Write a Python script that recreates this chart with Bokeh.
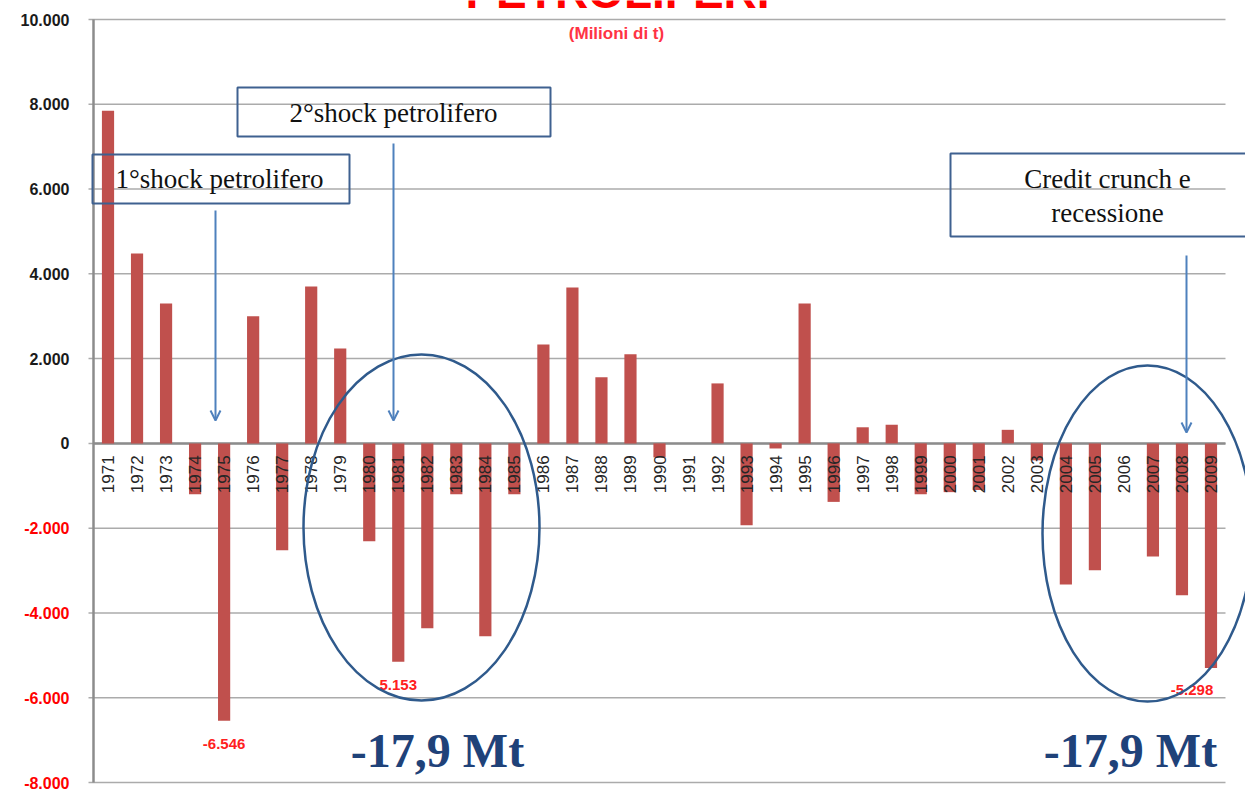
from bokeh.plotting import figure
from bokeh.models import Range1d, ColumnDataSource, LinearScale, Arrow, OpenHead
from bokeh.core.properties import value
from bokeh.embed import file_html
from bokeh.resources import INLINE
import math

# ---------------- data ----------------
years = [str(y) for y in range(1971, 2010)]
values = [7850, 4480, 3300, -1200, -6546, 3000, -2520, 3700, 2240, -2310,
          -5153, -4360, -1200, -4550, -1200, 2330, 3680, 1560, 2100, -330,
          0, 1415, -1930, -120, 3300, -1380, 380, 440, -1200, -1150,
          -1100, 320, -400, -3330, -2990, 0, -2670, -3580, -5298]
ytick_values = [-8000, -6000, -4000, -2000, 0, 2000, 4000, 6000, 8000, 10000]
ytick_labels = [f"{v:,}".replace(",", ".") for v in ytick_values]
label_years = ["1975", "1981"]
label_values = [-6546, -5153]
label_texts = ["-6.546", "5.153"]
last_year, last_value, last_text = "2009", -5298, "-5.298"

title_text = "PETROLIFERI"
subtitle_text = "(Milioni di t)"
box_texts = ["1°shock petrolifero", "2°shock petrolifero", "Credit crunch e", "recessione"]
total_text = "-17,9 Mt"

# ---------------- layout (page pixels) ----------------
W, H = 1245, 790
AX_L, AX_R = 93, 1225          # category area
Y_TOP, Y_BOT = 19, 782         # pixel rows of 10.000 and -8.000
N = len(years)
slot = {y: i + 0.5 for i, y in enumerate(years)}
k = (Y_BOT - Y_TOP) / (ytick_values[-1] - ytick_values[0])   # px per unit


def X(px):
    """page pixel column -> x data (category slots)"""
    return (px - AX_L) * N / (AX_R - AX_L)


def yval(py):
    return ytick_values[-1] - (py - Y_TOP) / k


p = figure(width=W, height=H, x_range=Range1d(X(0), X(W)),
           y_range=Range1d(yval(H), yval(0)),
           output_backend="svg", toolbar_location=None, title=None,
           min_border=0)
p.extra_y_ranges = {"py": Range1d(H, 0)}
p.extra_y_scales = {"py": LinearScale()}
p.axis.visible = False
p.grid.visible = False
p.outline_line_color = None
p.background_fill_color = "white"
p.border_fill_color = "white"

# gridlines (with small outer tick) and axes
p.segment(x0=X(AX_L - 5), x1=N, y0=ytick_values, y1=ytick_values,
          line_color="#ababab", line_width=1.5)
p.segment(x0=[0], x1=[0], y0=[ytick_values[0]], y1=[ytick_values[-1]],
          line_color="#8c8c8c", line_width=2.5)
p.segment(x0=[0], x1=[N], y0=[0], y1=[0], line_color="#8c8c8c", line_width=2.5)

src = ColumnDataSource(dict(x=[slot[y] for y in years], year=years, top=values))
p.vbar(x="x", top="top", bottom=0, width=0.42, source=src,
       fill_color="#c0504d", line_color=None)

# year labels on the zero line
p.text(x="x", y=0, text="year", source=src, angle=math.pi / 2, text_align="right",
       text_baseline="middle", y_offset=12, text_font=value("Liberation Sans"),
       text_font_size="17px", text_color="#262626")

# y tick labels (negatives in red)
p.text(x=[X(69)] * len(ytick_values), y=ytick_values, text=ytick_labels,
       text_color=["#ff0000" if v < 0 else "#1a1a1a" for v in ytick_values],
       text_align="right", text_baseline="middle", text_font=value("Liberation Sans"),
       text_font_style="bold", text_font_size="16px")

# data labels
p.text(x=[slot[y] for y in label_years], y=label_values, text=label_texts, text_align="center",
       text_baseline="middle", y_offset=23, text_font=value("Liberation Sans"),
       text_font_style="bold", text_font_size="15px", text_color="#ff2020")
p.text(x=[slot[last_year]], y=[last_value], text=[last_text], text_align="center",
       text_baseline="middle", y_offset=22, x_offset=-19, text_font=value("Liberation Sans"),
       text_font_style="bold", text_font_size="15px", text_color="#ff2020")

# title (cut off at the top like the reference) and subtitle
p.text(x=[X(617)], y=[17], y_range_name="py", text=[title_text],
       text_align="center", text_baseline="bottom", text_font=value("Liberation Sans"),
       text_font_style="bold", text_font_size="46px", text_color="#ff0000")
p.text(x=[X(616)], y=[33], y_range_name="py", text=[subtitle_text],
       text_align="center", text_baseline="middle", text_font=value("Liberation Sans"),
       text_font_style="bold", text_font_size="17px", text_color="#ff3344")

# annotation boxes
box_col = "#3f6190"
p.quad(left=[X(92), X(237), X(950)], right=[X(349), X(550), X(1252)],
       top=[154, 87, 153], bottom=[203, 136, 236],
       y_range_name="py", fill_alpha=0, line_color=box_col, line_width=2)
serif = value("Liberation Serif")
p.text(x=[X(115)], y=[178], text=[box_texts[0]], y_range_name="py",
       text_align="left", text_baseline="middle", text_font=serif,
       text_font_size="27px", text_color="#111111")
p.text(x=[X(393), X(1107), X(1107)], y=[112, 178, 212], text=box_texts[1:],
       y_range_name="py", text_align="center", text_baseline="middle", text_font=serif,
       text_font_size="27px", text_color="#111111")

# arrows
arr_col = "#4f81bd"
for (x, y0, y1) in [(215, 210, 420), (393, 143, 420), (1186, 255, 432)]:
    p.add_layout(Arrow(x_start=X(x), y_start=y0, x_end=X(x), y_end=y1,
                       y_range_name="py", line_color=arr_col, line_width=2,
                       end=OpenHead(size=10, line_color=arr_col, line_width=2)))

# ellipses
p.ellipse(x=[X(421), X(1147)], y=[527, 533], width=[236, 210], height=[346, 336],
          width_units="screen", height_units="screen",
          y_range_name="py", fill_alpha=0, line_color="#2f5a8c", line_width=2.5)

# totals
p.text(x=[X(437), X(1130)], y=[750, 750], text=[total_text, total_text],
       y_range_name="py", text_align="center", text_baseline="middle",
       text_font=serif, text_font_style="bold", text_font_size="48px",
       text_color="#1f4279")

open("out.html", "w").write(file_html(p, INLINE))
